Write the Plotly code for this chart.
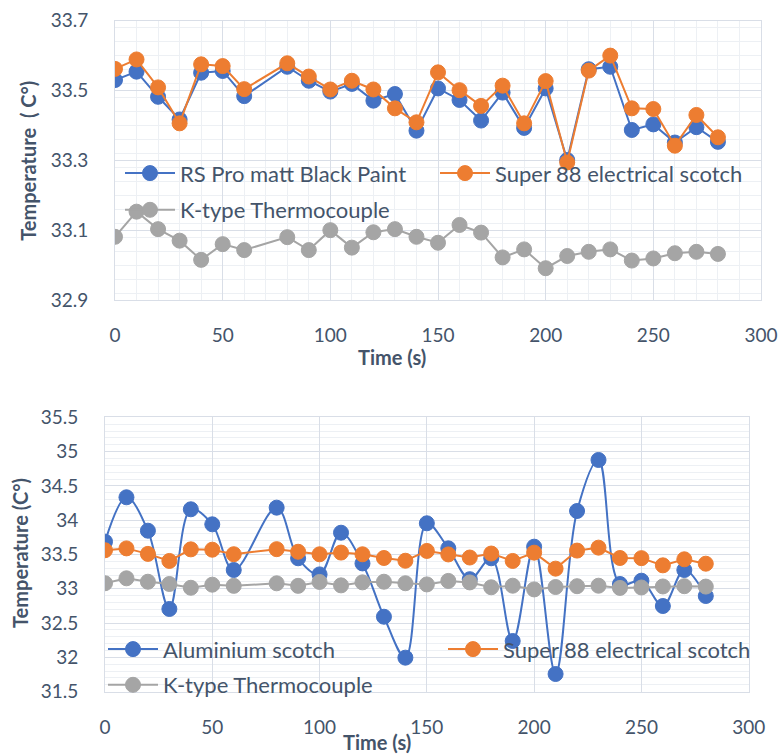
import plotly.graph_objects as go

# ---- data ----
time_s = [0, 10, 20, 30, 40, 50, 60, 80, 90, 100, 110, 120, 130, 140, 150,
          160, 170, 180, 190, 200, 210, 220, 230, 240, 250, 260, 270, 280]

rs_pro_black = [33.530, 33.554, 33.482, 33.417, 33.551, 33.556, 33.484, 33.568,
                33.528, 33.497, 33.519, 33.471, 33.490, 33.385, 33.506, 33.473,
                33.414, 33.494, 33.393, 33.506, 33.301, 33.561, 33.568, 33.387,
                33.403, 33.351, 33.395, 33.353]

super88 = [33.562, 33.589, 33.509, 33.406, 33.575, 33.570, 33.504, 33.578,
           33.540, 33.503, 33.528, 33.503, 33.449, 33.409, 33.552, 33.501,
           33.456, 33.514, 33.406, 33.527, 33.294, 33.557, 33.600, 33.449,
           33.447, 33.342, 33.430, 33.366]

k_type = [33.081, 33.153, 33.103, 33.070, 33.015, 33.060, 33.043, 33.080,
          33.043, 33.100, 33.050, 33.094, 33.103, 33.081, 33.064, 33.115,
          33.093, 33.022, 33.045, 32.991, 33.026, 33.038, 33.045, 33.013,
          33.019, 33.034, 33.038, 33.032]

aluminium = [33.687, 34.334, 33.847, 32.706, 34.159, 33.940, 33.274, 34.183,
             33.445, 33.210, 33.818, 33.370, 32.593, 31.996, 33.955, 33.590,
             33.140, 33.445, 32.239, 33.614, 31.758, 34.134, 34.878, 33.070,
             33.118, 32.749, 33.274, 32.895]

names_top = ["RS Pro matt Black Paint", "Super 88 electrical scotch", "K-type Thermocouple"]
names_bottom = ["Aluminium scotch", "Super 88 electrical scotch", "K-type Thermocouple"]

BLUE = "#4472C4"
ORANGE = "#ED7D31"
GRAY = "#A5A5A5"
TXT = "#44546A"
GRID = "#D9DEE7"
MINOR = "#EDF0F4"
FONT = "Lato"

W, H = 782, 754

def px_x(p):
    return p / W

def px_y(p):
    return 1 - p / H

fig = go.Figure()

def add(x, y, name, color, xa, ya, leg, shape="linear"):
    fig.add_trace(go.Scatter(
        x=x, y=y, name=name, mode="lines+markers",
        line=dict(color=color, width=2, shape=shape, smoothing=1),
        marker=dict(color=color, size=15, line=dict(color=color, width=1)),
        xaxis=xa, yaxis=ya, legend=leg))

add(time_s, rs_pro_black, names_top[0], BLUE, "x", "y", "legend")
add(time_s, super88, names_top[1], ORANGE, "x", "y", "legend")
add(time_s, k_type, names_top[2], GRAY, "x", "y", "legend3")

add(time_s, aluminium, names_bottom[0], BLUE, "x2", "y2", "legend2", shape="spline")
add(time_s, super88, names_bottom[1], ORANGE, "x2", "y2", "legend2")
add(time_s, k_type, names_bottom[2], GRAY, "x2", "y2", "legend4")

tickfont = dict(family=FONT, size=19, color=TXT)

axis_common = dict(showgrid=True, gridcolor=GRID, gridwidth=1, zeroline=False,
                   showline=True, linecolor=GRID, linewidth=1, mirror=True,
                   ticks="", tickfont=tickfont, automargin=False)

legfont = dict(family=FONT, size=22, color=TXT)

def leg(xp, yp, ew):
    return dict(orientation="h", x=px_x(xp), y=px_y(yp), xanchor="left", yanchor="middle",
                bgcolor="rgba(0,0,0,0)", font=legfont, entrywidth=ew, itemwidth=50)

fig.update_layout(
    width=W, height=H,
    margin=dict(l=0, r=0, t=0, b=0, autoexpand=False),
    paper_bgcolor="white", plot_bgcolor="white",
    xaxis=dict(domain=[px_x(115), px_x(761)], range=[0, 300], dtick=50, tick0=0,
               anchor="y", ticklabelstandoff=18,
               minor=dict(dtick=10, showgrid=True, gridcolor=MINOR),
               **axis_common),
    yaxis=dict(domain=[px_y(300), px_y(20.7)], range=[32.9, 33.7], dtick=0.2, tick0=32.9,
               tickformat=".1f", anchor="x", ticklabelstandoff=22,
               minor=dict(dtick=0.04, showgrid=True, gridcolor=MINOR),
               **axis_common),
    xaxis2=dict(domain=[px_x(105), px_x(748.7)], range=[0, 300], dtick=50, tick0=0,
                anchor="y2", ticklabelstandoff=18,
                **axis_common),
    yaxis2=dict(domain=[px_y(691.7), px_y(417.3)], range=[31.5, 35.5], dtick=0.5, tick0=31.5,
                anchor="x2", ticklabelstandoff=22,
                minor=dict(dtick=0.1, showgrid=True, gridcolor=MINOR),
                **axis_common),
    legend=leg(120, 173.3, 250),
    legend3=leg(120, 210, 250),
    legend2=leg(103, 649.3, 275),
    legend4=leg(103, 685, 275),
    showlegend=True,
)

title_font = dict(family=FONT, size=20, color=TXT, weight="bold")
annots = [
    dict(text="Temperature  ( C°)", x=px_x(28), y=px_y(160.8), textangle=-90),
    dict(text="Temperature (C°)", x=px_x(20), y=px_y(553), textangle=-90),
    dict(text="Time (s)", x=px_x(392.5), y=px_y(356.7)),
    dict(text="Time (s)", x=px_x(376.7), y=px_y(741.7)),
]
for a in annots:
    fig.add_annotation(xref="paper", yref="paper", showarrow=False,
                       xanchor="center", yanchor="middle", font=title_font, **a)

fig.write_html("out.html", config={"displayModeBar": False},
               post_script="document.body.style.margin='0px';document.body.style.padding='0px';")
